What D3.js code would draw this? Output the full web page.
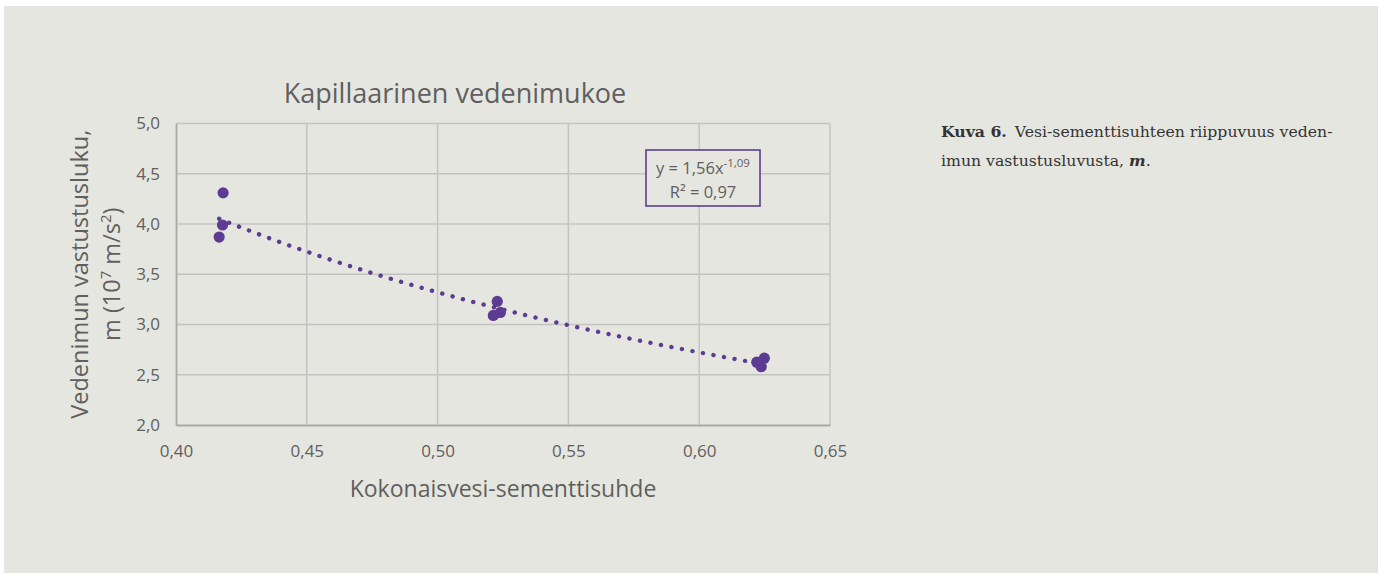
<!DOCTYPE html>
<html>
<head>
<meta charset="utf-8">
<script src="https://cdn.jsdelivr.net/npm/d3@7"></script>
<style>
  html, body { margin: 0; padding: 0; background: #ffffff; }
  svg { display: block; }
</style>
</head>
<body>
<svg id="chart" width="1384" height="578"></svg>
<script>
// Measured points: total water-cement ratio vs. capillary suction resistance m (10^7 m/s^2)
const wcRatio = [0.4180, 0.4178, 0.4165, 0.5228, 0.5213, 0.5240, 0.6249, 0.6237, 0.6220];
const resistance = [4.31, 3.99, 3.87, 3.23, 3.09, 3.12, 2.665, 2.58, 2.625];

// Power-law fit y = a * x^b
const fitA = 1.56;
const fitB = -1.09;
const fitR2 = "0,97";

const xTicks = [0.40, 0.45, 0.50, 0.55, 0.60, 0.65];
const yTicks = [2.0, 2.5, 3.0, 3.5, 4.0, 4.5, 5.0];

const titleText = "Kapillaarinen vedenimukoe";
const xTitle = "Kokonaisvesi-sementtisuhde";
const yTitleLine1 = "Vedenimun vastustusluku,";
const captionLabel = "Kuva 6.";
const captionLine1 = "Vesi-sementtisuhteen riippuvuus veden-";
const captionLine2 = "imun vastustusluvusta, ";

const fmt = v => v.toFixed(2).replace(".", ",");
const fmt1 = v => v.toFixed(1).replace(".", ",");

const svg = d3.select("#chart");
const purple = "#5c3c92";
const textGray = "#5f5f5f";
const font = "'Open Sans', 'Noto Sans', sans-serif";

// page panel
svg.append("rect").attr("x", 4).attr("y", 6).attr("width", 1374).attr("height", 567)
  .attr("fill", "#e6e6e0");

const x = d3.scaleLinear().domain([0.40, 0.65]).range([176, 830]);
const y = d3.scaleLinear().domain([2.0, 5.0]).range([425, 123.5]);

// gridlines
const grid = svg.append("g");
grid.selectAll("line.v").data(xTicks.slice(1)).join("line")
  .attr("x1", d => x(d)).attr("x2", d => x(d))
  .attr("y1", y(2.0)).attr("y2", y(5.0))
  .attr("stroke", "#c3c3c0").attr("stroke-width", 1.5);
grid.selectAll("line.h").data(yTicks.slice(1)).join("line")
  .attr("x1", x(0.40)).attr("x2", x(0.65))
  .attr("y1", d => y(d)).attr("y2", d => y(d))
  .attr("stroke", "#c3c3c0").attr("stroke-width", 1.5);

// axes
const xAxis = svg.append("g").attr("transform", `translate(0,${y(2.0)})`)
  .call(d3.axisBottom(x).tickValues(xTicks).tickFormat(fmt).tickSize(0).tickPadding(20));
const yAxis = svg.append("g").attr("transform", `translate(${x(0.40)},0)`)
  .call(d3.axisLeft(y).tickValues(yTicks).tickFormat(fmt1).tickSize(0).tickPadding(16));
[xAxis, yAxis].forEach(a => {
  a.select(".domain").attr("stroke", "#a9a9a6").attr("stroke-width", 1.8);
  a.selectAll("text").attr("fill", textGray).attr("font-family", font).attr("font-size", 17);
});

// trendline (dotted)
const xs = d3.range(d3.min(wcRatio), d3.max(wcRatio) + 1e-9, 0.001);
const line = d3.line().x(d => x(d)).y(d => y(fitA * Math.pow(d, fitB)));
svg.append("path").datum(xs).attr("d", line)
  .attr("fill", "none").attr("stroke", purple).attr("stroke-width", 4.4)
  .attr("stroke-linecap", "round").attr("stroke-dasharray", "0.1 10.6");

// points
svg.append("g").selectAll("circle").data(wcRatio).join("circle")
  .attr("cx", d => x(d)).attr("cy", (d, i) => y(resistance[i]))
  .attr("r", 5.6).attr("fill", purple);

// title
svg.append("text").attr("x", 455).attr("y", 103).attr("text-anchor", "middle")
  .attr("fill", textGray).attr("font-family", font).attr("font-size", 27)
  .text(titleText);

// x title
svg.append("text").attr("x", 503).attr("y", 497).attr("text-anchor", "middle")
  .attr("fill", textGray).attr("font-family", font).attr("font-size", 23)
  .text(xTitle);

// y title, two rotated lines
const yc = (y(2.0) + y(5.0)) / 2;
svg.append("text").attr("transform", `translate(88,${yc}) rotate(-90)`)
  .attr("text-anchor", "middle").attr("fill", textGray).attr("font-family", font)
  .attr("font-size", 23.5).text(yTitleLine1);
const yt2 = svg.append("text").attr("transform", `translate(120,${yc}) rotate(-90)`)
  .attr("text-anchor", "middle").attr("fill", textGray).attr("font-family", font)
  .attr("font-size", 23.5);
yt2.append("tspan").text("m (10");
yt2.append("tspan").attr("dy", -9).attr("font-size", 15).text("7");
yt2.append("tspan").attr("dy", 9).text(" m/s");
yt2.append("tspan").attr("dy", -9).attr("font-size", 15).text("2");
yt2.append("tspan").attr("dy", 9).text(")");

// equation box
svg.append("rect").attr("x", 646).attr("y", 150).attr("width", 114).attr("height", 56)
  .attr("fill", "#e6e6e0").attr("stroke", purple).attr("stroke-width", 1.6);
const eq = svg.append("text").attr("x", 703).attr("y", 174).attr("text-anchor", "middle")
  .attr("fill", textGray).attr("font-family", font).attr("font-size", 16.5);
eq.append("tspan").text("y = " + fitA.toFixed(2).replace(".", ",") + "x");
eq.append("tspan").attr("dy", -7).attr("font-size", 11.5)
  .text(String(fitB.toFixed(2)).replace(".", ","));
svg.append("text").attr("x", 703).attr("y", 198).attr("text-anchor", "middle")
  .attr("fill", textGray).attr("font-family", font).attr("font-size", 16.5)
  .text("R² = " + fitR2);

// caption
const capFont = "'DejaVu Serif', serif";
const cap1 = svg.append("text").attr("x", 941).attr("y", 137)
  .attr("fill", "#333333").attr("font-family", capFont).attr("font-size", 15.7);
cap1.append("tspan").attr("font-weight", "bold").text(captionLabel);
cap1.append("tspan").attr("dx", 3).text(" " + captionLine1);
const cap2 = svg.append("text").attr("x", 941).attr("y", 166)
  .attr("fill", "#333333").attr("font-family", capFont).attr("font-size", 15.7);
cap2.append("tspan").text(captionLine2);
cap2.append("tspan").attr("font-style", "italic").attr("font-weight", "bold").text("m");
cap2.append("tspan").text(".");
</script>
</body>
</html>
